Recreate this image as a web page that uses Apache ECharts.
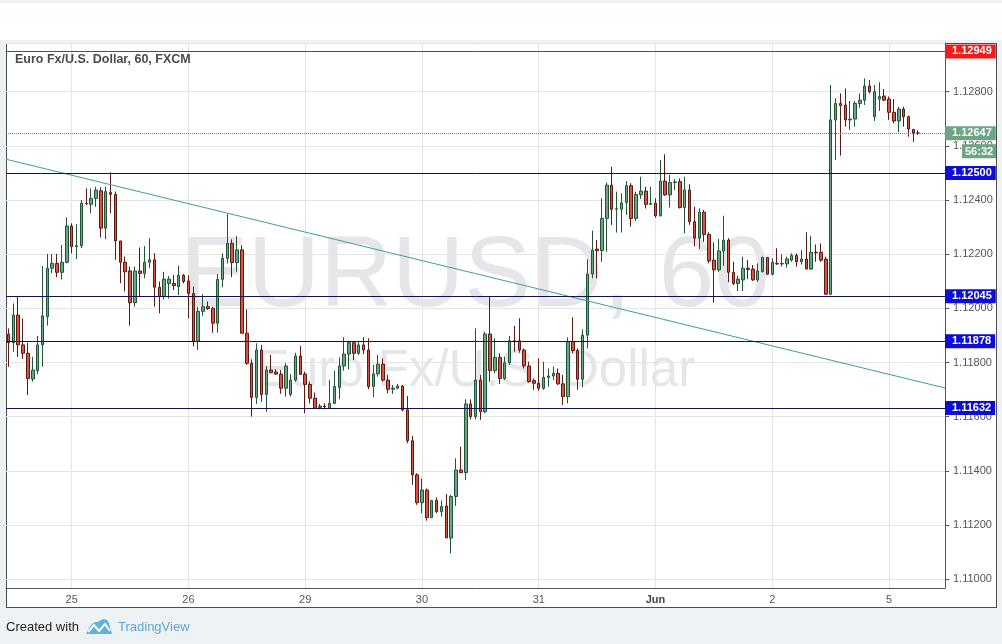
<!DOCTYPE html>
<html><head><meta charset="utf-8">
<script src="https://cdn.jsdelivr.net/npm/echarts@6/dist/echarts.min.js"></script>
<style>
html,body{margin:0;padding:0;width:1002px;height:644px;overflow:hidden;background:#eff2f5;}
#topband{position:absolute;left:0;top:3px;width:1002px;height:37px;background:#fff;}
#frame{position:absolute;left:6px;top:43px;width:989px;height:563px;border:1px solid #4d4d4d;background:#fff;}
#chart{position:absolute;left:0;top:0;width:1002px;height:644px;}
</style></head>
<body>
<div id="topband"></div><div id="frame"></div><div id="chart"></div>
<script>
// ---- data (hourly EUR/USD candles) ----
const open = [
1.11905,1.11873,1.11975,1.11865,1.11834,1.11739,1.11770,1.11865,1.11969,1.12148,
1.12166,1.12133,1.12170,1.12304,1.12228,1.12231,1.12388,1.12384,1.12406,1.12434,
1.12296,1.12428,1.12421,1.12249,1.12170,1.12138,1.12021,1.12138,1.12129,1.12170,
1.12179,1.12078,1.12043,1.12092,1.12092,1.12080,1.12122,1.12101,1.12055,1.11879,
1.11989,1.12006,1.12000,1.11945,1.12107,1.12185,1.12240,1.12169,1.12216,1.11908,
1.11797,1.11671,1.11846,1.11682,1.11772,1.11765,1.11757,1.11705,1.11682,1.11735,
1.11824,1.11757,1.11719,1.11668,1.11634,1.11639,1.11631,1.11649,1.11708,1.11787,
1.11831,1.11873,1.11834,1.11865,1.11846,1.11711,1.11758,1.11794,1.11735,1.11701,
1.11705,1.11713,1.11625,1.11511,1.11385,1.11282,1.11329,1.11227,1.11290,1.11249,
1.11270,1.11152,1.11305,1.11403,1.11393,1.11647,1.11600,1.11735,1.11618,1.11905,
1.11770,1.11819,1.11741,1.11799,1.11880,1.11880,1.11846,1.11787,1.11733,1.11723,
1.11705,1.11745,1.11750,1.11760,1.11721,1.11674,1.11877,1.11844,1.11738,1.11901,
1.12127,1.12219,1.12213,1.12332,1.12455,1.12366,1.12366,1.12391,1.12453,1.12332,
1.12419,1.12433,1.12384,1.12388,1.12342,1.12470,1.12419,1.12465,1.12468,1.12372,
1.12437,1.12320,1.12259,1.12355,1.12273,1.12178,1.12142,1.12212,1.12252,1.12133,
1.12092,1.12105,1.12148,1.12145,1.12105,1.12135,1.12188,1.12126,1.12166,1.12164,
1.12164,1.12178,1.12195,1.12172,1.12182,1.12145,1.12207,1.12207,1.12182,1.12052,
1.12696,1.12757,1.12751,1.12696,1.12699,1.12757,1.12769,1.12821,1.12708,1.12773,
1.12784,1.12773,1.12724,1.12692,1.12736,1.12708,1.12661,1.12648];
const close = [
1.11873,1.11975,1.11865,1.11834,1.11741,1.11772,1.11865,1.11972,1.12148,1.12166,
1.12133,1.12170,1.12304,1.12228,1.12231,1.12388,1.12386,1.12406,1.12437,1.12296,
1.12431,1.12421,1.12249,1.12170,1.12135,1.12021,1.12138,1.12129,1.12170,1.12179,
1.12078,1.12043,1.12108,1.12108,1.12084,1.12122,1.12099,1.12055,1.11879,1.11989,
1.12006,1.11999,1.11945,1.12107,1.12185,1.12240,1.12169,1.12216,1.11908,1.11797,
1.11671,1.11846,1.11682,1.11772,1.11762,1.11757,1.11705,1.11787,1.11735,1.11824,
1.11756,1.11719,1.11668,1.11631,1.11639,1.11636,1.11649,1.11711,1.11787,1.11831,
1.11873,1.11834,1.11865,1.11846,1.11711,1.11758,1.11794,1.11735,1.11701,1.11705,
1.11713,1.11625,1.11511,1.11385,1.11282,1.11329,1.11227,1.11290,1.11249,1.11268,
1.11152,1.11305,1.11403,1.11393,1.11647,1.11600,1.11735,1.11618,1.11905,1.11770,
1.11819,1.11741,1.11799,1.11880,1.11877,1.11846,1.11787,1.11729,1.11723,1.11705,
1.11745,1.11750,1.11760,1.11721,1.11674,1.11877,1.11844,1.11738,1.11901,1.12127,
1.12215,1.12213,1.12332,1.12455,1.12366,1.12368,1.12390,1.12453,1.12332,1.12421,
1.12433,1.12384,1.12387,1.12342,1.12470,1.12419,1.12465,1.12467,1.12372,1.12437,
1.12320,1.12259,1.12355,1.12273,1.12175,1.12142,1.12212,1.12252,1.12133,1.12092,
1.12108,1.12148,1.12143,1.12105,1.12138,1.12188,1.12126,1.12170,1.12164,1.12166,
1.12182,1.12195,1.12172,1.12182,1.12145,1.12207,1.12205,1.12178,1.12052,1.12696,
1.12757,1.12749,1.12696,1.12699,1.12757,1.12769,1.12821,1.12800,1.12800,1.12782,
1.12769,1.12724,1.12692,1.12736,1.12708,1.12662,1.12648,1.12647];
const low = [
1.11784,1.11840,1.11821,1.11813,1.11680,1.11729,1.11756,1.11784,1.11936,1.12129,
1.12115,1.12107,1.12166,1.12203,1.12182,1.12222,1.12382,1.12351,1.12375,1.12262,
1.12255,1.12351,1.12179,1.12093,1.12062,1.11936,1.12006,1.12046,1.12111,1.12148,
1.12006,1.11982,1.12033,1.12036,1.12068,1.12049,1.12092,1.11963,1.11859,1.11846,
1.11972,1.11994,1.11910,1.11910,1.12078,1.12166,1.12115,1.12135,1.11908,1.11791,
1.11600,1.11647,1.11655,1.11618,1.11760,1.11754,1.11684,1.11674,1.11674,1.11729,
1.11754,1.11612,1.11649,1.11631,1.11627,1.11627,1.11631,1.11647,1.11664,1.11770,
1.11775,1.11809,1.11828,1.11831,1.11701,1.11672,1.11748,1.11729,1.11686,1.11684,
1.11701,1.11619,1.11502,1.11348,1.11274,1.11243,1.11216,1.11225,1.11243,1.11231,
1.11152,1.11095,1.11270,1.11391,1.11366,1.11590,1.11590,1.11588,1.11612,1.11729,
1.11760,1.11721,1.11735,1.11791,1.11840,1.11836,1.11778,1.11725,1.11699,1.11696,
1.11699,1.11711,1.11735,1.11717,1.11643,1.11649,1.11834,1.11699,1.11708,1.11852,
1.12111,1.12111,1.12172,1.12209,1.12308,1.12280,1.12280,1.12345,1.12302,1.12323,
1.12404,1.12369,1.12384,1.12335,1.12339,1.12416,1.12372,1.12437,1.12369,1.12277,
1.12308,1.12228,1.12219,1.12246,1.12166,1.12022,1.12135,1.12157,1.12096,1.12086,
1.12064,1.12064,1.12108,1.12101,1.12098,1.12133,1.12123,1.12121,1.12160,1.12154,
1.12150,1.12172,1.12154,1.12162,1.12145,1.12142,1.12172,1.12172,1.12049,1.12049,
1.12548,1.12564,1.12671,1.12659,1.12671,1.12741,1.12751,1.12794,1.12692,1.12729,
1.12766,1.12696,1.12683,1.12650,1.12671,1.12634,1.12615,1.12640];
const high = [
1.11926,1.12018,1.12046,1.11963,1.11873,1.11821,1.11898,1.12156,1.12201,1.12201,
1.12201,1.12234,1.12336,1.12314,1.12311,1.12400,1.12443,1.12443,1.12449,1.12447,
1.12449,1.12502,1.12431,1.12249,1.12191,1.12154,1.12154,1.12225,1.12230,1.12259,
1.12203,1.12099,1.12135,1.12119,1.12123,1.12158,1.12127,1.12122,1.12080,1.12006,
1.12052,1.12025,1.12006,1.12127,1.12203,1.12348,1.12255,1.12267,1.12233,1.11996,
1.11812,1.11871,1.11865,1.11787,1.11828,1.11775,1.11772,1.11797,1.11757,1.11836,
1.11861,1.11766,1.11729,1.11689,1.11647,1.11649,1.11735,1.11770,1.11819,1.11893,
1.11881,1.11877,1.11877,1.11893,1.11889,1.11791,1.11828,1.11815,1.11754,1.11717,
1.11721,1.11717,1.11676,1.11529,1.11391,1.11372,1.11335,1.11292,1.11302,1.11290,
1.11314,1.11311,1.11446,1.11489,1.11664,1.11664,1.11926,1.11754,1.11914,1.12045,
1.11889,1.11834,1.11821,1.11898,1.11935,1.11963,1.11852,1.11803,1.11741,1.11815,
1.11803,1.11778,1.11785,1.11778,1.11754,1.11893,1.11967,1.11852,1.11922,1.12181,
1.12287,1.12252,1.12406,1.12464,1.12523,1.12431,1.12425,1.12470,1.12462,1.12431,
1.12486,1.12449,1.12449,1.12406,1.12548,1.12569,1.12492,1.12478,1.12480,1.12486,
1.12458,1.12375,1.12369,1.12363,1.12281,1.12244,1.12256,1.12342,1.12259,1.12172,
1.12121,1.12191,1.12178,1.12160,1.12166,1.12191,1.12188,1.12185,1.12222,1.12199,
1.12191,1.12203,1.12203,1.12215,1.12281,1.12268,1.12236,1.12240,1.12191,1.12825,
1.12776,1.12794,1.12812,1.12766,1.12766,1.12794,1.12849,1.12843,1.12825,1.12835,
1.12810,1.12782,1.12773,1.12745,1.12745,1.12712,1.12662,1.12657];

const slotCount = 193;                       // hourly slots shown (incl. empty right margin)
const dayStart = [13, 37, 61, 85, 109, 133, 157, 181];
const dayLabels = ['25', '26', '29', '30', '31', 'Jun', '2', '5'];
const yTicks = [1.110, 1.112, 1.114, 1.116, 1.118, 1.120, 1.122, 1.124, 1.126, 1.128];
const supportLevels = [1.12500, 1.12045, 1.11878, 1.11632];
const resistanceLevel = [1.12949];
const trendX = [-0.5, 192.5];
const trendY = [1.125507, 1.117058];
const countdownText = '56:32';
const yRange = [1.10967, 1.12980];

// ---- chart ----
const categories = Array.from({length: slotCount}, (_, i) => String(i));
const candleData = open.map((o, i) => [o, close[i], low[i], high[i]]);
const lastPrice = close[close.length - 1];
const isDay = (i) => dayStart.indexOf(i) >= 0;
const FONT = 'Liberation Sans';

function levelLine(v, lineColor, boxColor, type) {
  return {
    yAxis: v,
    lineStyle: {color: lineColor, width: 1, type: type || 'solid'},
    label: {
      show: true, position: 'end', distance: 0,
      formatter: (p) => Number(p.value).toFixed(5),
      color: '#fff', fontWeight: 'bold', fontSize: 11, fontFamily: FONT,
      backgroundColor: boxColor, padding: [2, 4, 1, 7], lineHeight: 11
    }
  };
}

const chart = echarts.init(document.getElementById('chart'), null, {renderer: 'canvas'});
const option = {
  animation: false,
  backgroundColor: 'transparent',
  title: {
    text: 'Euro Fx/U.S. Dollar, 60, FXCM', left: 15, top: 53, padding: 0,
    textStyle: {fontFamily: FONT, fontSize: 12.5, fontWeight: 'bold', color: '#4a4a4a'}
  },
  grid: {left: 6, right: 57, top: 43, bottom: 56, containLabel: false},
  xAxis: [{
    type: 'category', data: categories, boundaryGap: true,
    axisLine: {show: true, onZero: false, lineStyle: {color: '#555', width: 1}},
    axisTick: {show: false},
    axisLabel: {
      interval: (i) => isDay(i),
      formatter: (v) => {
        const k = dayStart.indexOf(Number(v));
        if (k < 0) return '';
        const t = dayLabels[k];
        return isNaN(Number(t)) ? '{m|' + t + '}' : t;
      },
      color: '#555', fontSize: 11, fontFamily: FONT, margin: 6,
      rich: {m: {color: '#444', fontSize: 11, fontFamily: FONT, fontWeight: 'bold'}}
    },
    splitLine: {show: true, interval: (i) => isDay(i), alignWithLabel: true,
                lineStyle: {color: '#e4e4e4', width: 1}}
  }, {
    type: 'value', min: trendX[0], max: trendX[1], show: false,
    axisLine: {onZero: false}
  }],
  yAxis: {
    type: 'value', position: 'right', min: yRange[0], max: yRange[1],
    splitNumber: 10, scale: true,
    axisLine: {show: true, onZero: false, lineStyle: {color: '#555', width: 1}},
    axisTick: {show: true, length: 4, lineStyle: {color: '#555'}},
    axisLabel: {
      color: '#555', fontSize: 11, fontFamily: FONT, margin: 8,
      showMinLabel: false, showMaxLabel: false,
      formatter: (v) => yTicks.some(t => Math.abs(t - v) < 1e-7) ? v.toFixed(5) : ''
    },
    splitLine: {show: true, lineStyle: {color: '#e4e4e4', width: 1}}
  },
  series: [{
    type: 'candlestick', data: candleData, barWidth: 3, clip: false, z: 3,
    itemStyle: {color: '#6ba583', color0: '#d75442', borderColor: '#225437', borderColor0: '#5b1a13', borderWidth: 1},
    markLine: {
      silent: true, symbol: ['none', 'none'], animation: false, precision: 5,
      data: [
        levelLine(resistanceLevel[0], '#a32d2d', '#f01b1b'),
        levelLine(lastPrice, '#7a7a7a', '#6ba583', 'dotted')
      ].concat(supportLevels.map(v => levelLine(v, '#111150', '#0d0dd8')))
    }
  }, {
    type: 'line', xAxisIndex: 1, data: trendX.map((x, i) => [x, trendY[i]]),
    symbol: 'none', z: 4, clip: true,
    lineStyle: {color: '#3f9e95', width: 1}
  }]
};
chart.setOption(option);

const yLast = chart.convertToPixel({yAxisIndex: 0}, lastPrice);
const gridRight = chart.convertToPixel({xAxisIndex: 1}, trendX[1]);
const gridLeft = chart.convertToPixel({xAxisIndex: 1}, trendX[0]);
const cx = (gridLeft + gridRight) / 2;
chart.setOption({
  graphic: [
    {type: 'text', z: 1, silent: true, x: cx, y: 278,
     style: {text: 'EURUSD, 60', font: 'normal 100px "Liberation Sans"', fill: '#e6e6ea', align: 'center', verticalAlign: 'middle'}},
    {type: 'text', z: 1, silent: true, x: cx, y: 372,
     style: {text: 'Euro Fx/U.S. Dollar', font: 'normal 51px "Liberation Sans"', fill: '#e6e6ea', align: 'center', verticalAlign: 'middle'}},
    {type: 'text', z: 10, silent: true, x: gridRight + 17, y: yLast + 11,
     style: {text: countdownText, font: 'bold 11px "Liberation Sans"', fill: '#fff', backgroundColor: '#6ba583',
             padding: [2, 3, 1, 3], lineHeight: 11}},
    {type: 'text', silent: true, x: 6, y: 627,
     style: {text: 'Created with', font: 'normal 13px "Liberation Sans"', fill: '#222', verticalAlign: 'middle'}},
    {type: 'polygon', silent: true,
     shape: {points: [[86, 634], [89, 628], [92, 624], [95, 622], [98, 622], [101, 620], [104, 619], [107, 620], [109, 623], [110, 627], [112, 634]]},
     style: {fill: '#5fb3dc'}},
    {type: 'polyline', silent: true,
     shape: {points: [[88, 632], [94, 625], [99, 631], [105, 624], [110, 631]]},
     style: {stroke: '#fff', lineWidth: 2, fill: null}},
    {type: 'text', silent: true, x: 118, y: 627,
     style: {text: 'TradingView', font: 'normal 13px "Liberation Sans"', fill: '#5aa7d1', verticalAlign: 'middle'}}
  ]
});
</script>
</body></html>
